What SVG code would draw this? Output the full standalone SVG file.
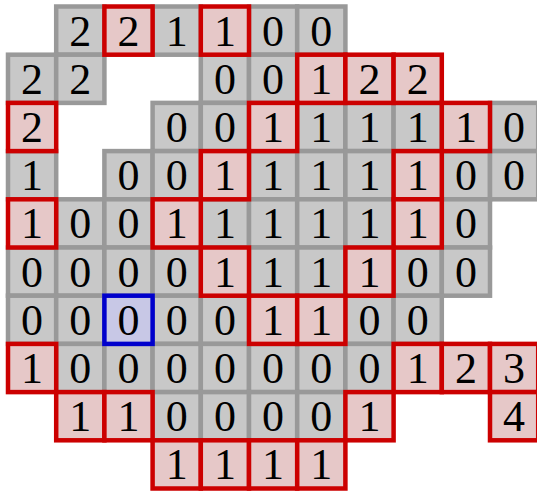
<svg xmlns="http://www.w3.org/2000/svg" width="537" height="492" viewBox="0 0 537 492">
<style>
rect{width:48.2px;height:48.2px;stroke-width:4.5}
.g rect{fill:#c8c8c8;stroke:#999999}
.r rect{fill:#e6c8c8;stroke:#cc0000}
.b rect{fill:#c8c8e6;stroke:#0000cc}
text{font-family:"Liberation Serif","DejaVu Serif",serif;font-size:44px;text-anchor:middle;fill:#000}
</style>
<rect width="537" height="492" fill="#fff" style="stroke:none;width:537px;height:492px"/>
<g id="gray">
<g id="c0_1" class="g"><rect x="56.2" y="6.5"/><text x="80.3" y="45.6">2</text></g>
<g id="c0_3" class="g"><rect x="152.6" y="6.5"/><text x="176.7" y="45.6">1</text></g>
<g id="c0_5" class="g"><rect x="249" y="6.5"/><text x="273.1" y="45.6">0</text></g>
<g id="c0_6" class="g"><rect x="297.2" y="6.5"/><text x="321.3" y="45.6">0</text></g>
<g id="c1_0" class="g"><rect x="8" y="54.7"/><text x="32.1" y="93.8">2</text></g>
<g id="c1_1" class="g"><rect x="56.2" y="54.7"/><text x="80.3" y="93.8">2</text></g>
<g id="c1_4" class="g"><rect x="200.8" y="54.7"/><text x="224.9" y="93.8">0</text></g>
<g id="c1_5" class="g"><rect x="249" y="54.7"/><text x="273.1" y="93.8">0</text></g>
<g id="c2_3" class="g"><rect x="152.6" y="102.9"/><text x="176.7" y="142">0</text></g>
<g id="c2_4" class="g"><rect x="200.8" y="102.9"/><text x="224.9" y="142">0</text></g>
<g id="c2_6" class="g"><rect x="297.2" y="102.9"/><text x="321.3" y="142">1</text></g>
<g id="c2_7" class="g"><rect x="345.4" y="102.9"/><text x="369.5" y="142">1</text></g>
<g id="c2_8" class="g"><rect x="393.6" y="102.9"/><text x="417.7" y="142">1</text></g>
<g id="c2_10" class="g"><rect x="490" y="102.9"/><text x="514.1" y="142">0</text></g>
<g id="c3_0" class="g"><rect x="8" y="151.1"/><text x="32.1" y="190.2">1</text></g>
<g id="c3_2" class="g"><rect x="104.4" y="151.1"/><text x="128.5" y="190.2">0</text></g>
<g id="c3_3" class="g"><rect x="152.6" y="151.1"/><text x="176.7" y="190.2">0</text></g>
<g id="c3_5" class="g"><rect x="249" y="151.1"/><text x="273.1" y="190.2">1</text></g>
<g id="c3_6" class="g"><rect x="297.2" y="151.1"/><text x="321.3" y="190.2">1</text></g>
<g id="c3_7" class="g"><rect x="345.4" y="151.1"/><text x="369.5" y="190.2">1</text></g>
<g id="c3_9" class="g"><rect x="441.8" y="151.1"/><text x="465.9" y="190.2">0</text></g>
<g id="c3_10" class="g"><rect x="490" y="151.1"/><text x="514.1" y="190.2">0</text></g>
<g id="c4_1" class="g"><rect x="56.2" y="199.3"/><text x="80.3" y="238.4">0</text></g>
<g id="c4_2" class="g"><rect x="104.4" y="199.3"/><text x="128.5" y="238.4">0</text></g>
<g id="c4_4" class="g"><rect x="200.8" y="199.3"/><text x="224.9" y="238.4">1</text></g>
<g id="c4_5" class="g"><rect x="249" y="199.3"/><text x="273.1" y="238.4">1</text></g>
<g id="c4_6" class="g"><rect x="297.2" y="199.3"/><text x="321.3" y="238.4">1</text></g>
<g id="c4_7" class="g"><rect x="345.4" y="199.3"/><text x="369.5" y="238.4">1</text></g>
<g id="c4_9" class="g"><rect x="441.8" y="199.3"/><text x="465.9" y="238.4">0</text></g>
<g id="c5_0" class="g"><rect x="8" y="247.5"/><text x="32.1" y="286.6">0</text></g>
<g id="c5_1" class="g"><rect x="56.2" y="247.5"/><text x="80.3" y="286.6">0</text></g>
<g id="c5_2" class="g"><rect x="104.4" y="247.5"/><text x="128.5" y="286.6">0</text></g>
<g id="c5_3" class="g"><rect x="152.6" y="247.5"/><text x="176.7" y="286.6">0</text></g>
<g id="c5_5" class="g"><rect x="249" y="247.5"/><text x="273.1" y="286.6">1</text></g>
<g id="c5_6" class="g"><rect x="297.2" y="247.5"/><text x="321.3" y="286.6">1</text></g>
<g id="c5_8" class="g"><rect x="393.6" y="247.5"/><text x="417.7" y="286.6">0</text></g>
<g id="c5_9" class="g"><rect x="441.8" y="247.5"/><text x="465.9" y="286.6">0</text></g>
<g id="c6_0" class="g"><rect x="8" y="295.7"/><text x="32.1" y="334.8">0</text></g>
<g id="c6_1" class="g"><rect x="56.2" y="295.7"/><text x="80.3" y="334.8">0</text></g>
<g id="c6_3" class="g"><rect x="152.6" y="295.7"/><text x="176.7" y="334.8">0</text></g>
<g id="c6_4" class="g"><rect x="200.8" y="295.7"/><text x="224.9" y="334.8">0</text></g>
<g id="c6_7" class="g"><rect x="345.4" y="295.7"/><text x="369.5" y="334.8">0</text></g>
<g id="c6_8" class="g"><rect x="393.6" y="295.7"/><text x="417.7" y="334.8">0</text></g>
<g id="c7_1" class="g"><rect x="56.2" y="343.9"/><text x="80.3" y="383">0</text></g>
<g id="c7_2" class="g"><rect x="104.4" y="343.9"/><text x="128.5" y="383">0</text></g>
<g id="c7_3" class="g"><rect x="152.6" y="343.9"/><text x="176.7" y="383">0</text></g>
<g id="c7_4" class="g"><rect x="200.8" y="343.9"/><text x="224.9" y="383">0</text></g>
<g id="c7_5" class="g"><rect x="249" y="343.9"/><text x="273.1" y="383">0</text></g>
<g id="c7_6" class="g"><rect x="297.2" y="343.9"/><text x="321.3" y="383">0</text></g>
<g id="c7_7" class="g"><rect x="345.4" y="343.9"/><text x="369.5" y="383">0</text></g>
<g id="c8_3" class="g"><rect x="152.6" y="392.1"/><text x="176.7" y="431.2">0</text></g>
<g id="c8_4" class="g"><rect x="200.8" y="392.1"/><text x="224.9" y="431.2">0</text></g>
<g id="c8_5" class="g"><rect x="249" y="392.1"/><text x="273.1" y="431.2">0</text></g>
<g id="c8_6" class="g"><rect x="297.2" y="392.1"/><text x="321.3" y="431.2">0</text></g>
</g>
<g id="red">
<g id="c0_2" class="r"><rect x="104.4" y="6.5"/><text x="128.5" y="45.6">2</text></g>
<g id="c0_4" class="r"><rect x="200.8" y="6.5"/><text x="224.9" y="45.6">1</text></g>
<g id="c1_6" class="r"><rect x="297.2" y="54.7"/><text x="321.3" y="93.8">1</text></g>
<g id="c1_7" class="r"><rect x="345.4" y="54.7"/><text x="369.5" y="93.8">2</text></g>
<g id="c1_8" class="r"><rect x="393.6" y="54.7"/><text x="417.7" y="93.8">2</text></g>
<g id="c2_0" class="r"><rect x="8" y="102.9"/><text x="32.1" y="142">2</text></g>
<g id="c2_5" class="r"><rect x="249" y="102.9"/><text x="273.1" y="142">1</text></g>
<g id="c2_9" class="r"><rect x="441.8" y="102.9"/><text x="465.9" y="142">1</text></g>
<g id="c3_4" class="r"><rect x="200.8" y="151.1"/><text x="224.9" y="190.2">1</text></g>
<g id="c3_8" class="r"><rect x="393.6" y="151.1"/><text x="417.7" y="190.2">1</text></g>
<g id="c4_0" class="r"><rect x="8" y="199.3"/><text x="32.1" y="238.4">1</text></g>
<g id="c4_3" class="r"><rect x="152.6" y="199.3"/><text x="176.7" y="238.4">1</text></g>
<g id="c4_8" class="r"><rect x="393.6" y="199.3"/><text x="417.7" y="238.4">1</text></g>
<g id="c5_4" class="r"><rect x="200.8" y="247.5"/><text x="224.9" y="286.6">1</text></g>
<g id="c5_7" class="r"><rect x="345.4" y="247.5"/><text x="369.5" y="286.6">1</text></g>
<g id="c6_5" class="r"><rect x="249" y="295.7"/><text x="273.1" y="334.8">1</text></g>
<g id="c6_6" class="r"><rect x="297.2" y="295.7"/><text x="321.3" y="334.8">1</text></g>
<g id="c7_0" class="r"><rect x="8" y="343.9"/><text x="32.1" y="383">1</text></g>
<g id="c7_8" class="r"><rect x="393.6" y="343.9"/><text x="417.7" y="383">1</text></g>
<g id="c7_9" class="r"><rect x="441.8" y="343.9"/><text x="465.9" y="383">2</text></g>
<g id="c7_10" class="r"><rect x="490" y="343.9"/><text x="514.1" y="383">3</text></g>
<g id="c8_1" class="r"><rect x="56.2" y="392.1"/><text x="80.3" y="431.2">1</text></g>
<g id="c8_2" class="r"><rect x="104.4" y="392.1"/><text x="128.5" y="431.2">1</text></g>
<g id="c8_7" class="r"><rect x="345.4" y="392.1"/><text x="369.5" y="431.2">1</text></g>
<g id="c8_10" class="r"><rect x="490" y="392.1"/><text x="514.1" y="431.2">4</text></g>
<g id="c9_3" class="r"><rect x="152.6" y="440.3"/><text x="176.7" y="479.4">1</text></g>
<g id="c9_4" class="r"><rect x="200.8" y="440.3"/><text x="224.9" y="479.4">1</text></g>
<g id="c9_5" class="r"><rect x="249" y="440.3"/><text x="273.1" y="479.4">1</text></g>
<g id="c9_6" class="r"><rect x="297.2" y="440.3"/><text x="321.3" y="479.4">1</text></g>
</g>
<g id="blue">
<g id="c6_2" class="b"><rect x="104.4" y="295.7"/><text x="128.5" y="334.8">0</text></g>
</g>
<g id="connectors"/>
</svg>
